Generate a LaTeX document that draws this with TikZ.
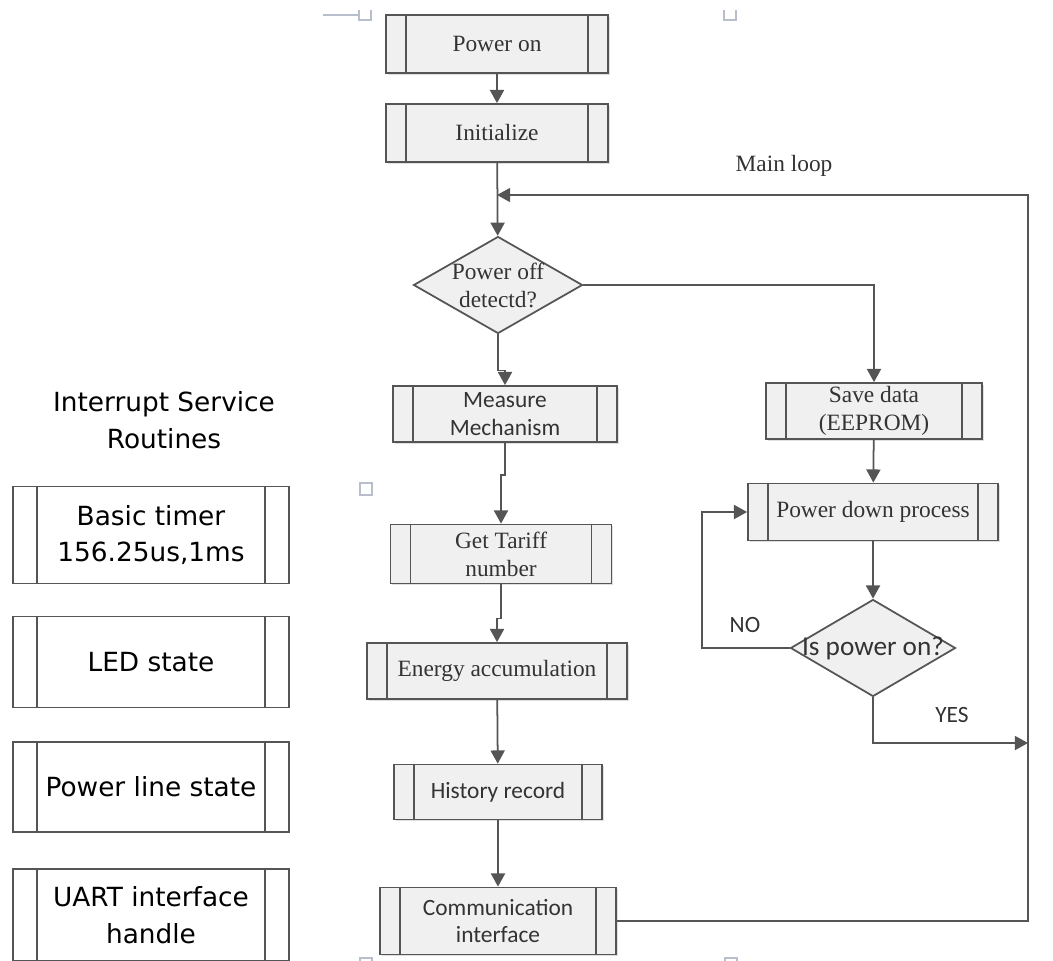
\documentclass[tikz,border=0pt]{standalone}
\usepackage{fontspec}
\setmainfont{Liberation Serif}
\newfontfamily\calibrifont{Carlito}
\newfontfamily\isrfont{DejaVu Sans}
\usetikzlibrary{arrows.meta,shapes.geometric,shadows}
\newdimen\px \px=0.02cm
\definecolor{linegray}{HTML}{555555}
\definecolor{boxgray}{HTML}{F0F0F0}
\definecolor{textgray}{HTML}{333333}
\definecolor{markgray}{HTML}{B8BECC}
\newcommand\flowserif{\fontsize{13.3}{16}\selectfont}
\newcommand\flowsans{\calibrifont\fontsize{13.3}{15.5}\selectfont}
\newcommand\isrsans{\isrfont\fontsize{15}{21}\selectfont}
\tikzset{
  flowline/.style={draw=linegray, line width=1pt},
  arr/.style={flowline, -{Triangle[length=7.5pt,width=8pt]}},
  subproc/.style={rectangle, draw=linegray, line width=1pt, fill=boxgray,
    inner sep=0pt, align=center, text=textgray,
    drop shadow={shadow xshift=1pt, shadow yshift=-1pt, opacity=0.25},
    path picture={
      \draw[linegray, line width=1pt]
        ([xshift=#1]path picture bounding box.north west) -- ([xshift=#1]path picture bounding box.south west)
        ([xshift=-#1]path picture bounding box.north east) -- ([xshift=-#1]path picture bounding box.south east);
    }},
  subproc/.default=20\px,
  isrbox/.style={rectangle, draw=linegray, line width=0.8pt, fill=white,
    inner sep=0pt, align=center, text=black, font=\isrsans, minimum width=276\px,
    path picture={
      \draw[linegray, line width=0.8pt]
        ([xshift=24\px]path picture bounding box.north west) -- ([xshift=24\px]path picture bounding box.south west)
        ([xshift=-24\px]path picture bounding box.north east) -- ([xshift=-24\px]path picture bounding box.south east);
    }},
  decision/.style={diamond, draw=linegray, line width=1pt, fill=boxgray, inner sep=0pt},
  marker/.style={draw=markgray, line width=0.6pt}
}

\begin{document}
\begin{tikzpicture}[x=0.02cm,y=-0.02cm]
  \useasboundingbox (0,0) rectangle (1053,960);

  %%%%% main flow %%%%%
  \node[subproc, minimum width=222\px, minimum height=58\px, font=\flowserif] (pwron) at (497,44) {Power on};
  \node[subproc, minimum width=222\px, minimum height=58\px, font=\flowserif] (init) at (497,133) {Initialize};
  \node[decision, minimum width=169\px, minimum height=97\px,
    label={[font=\flowserif, text=textgray, align=center]center:Power off\\detectd?}] (dec1) at (498,285) {};
  \node[subproc, minimum width=224\px, minimum height=56\px, font=\flowsans] (meas) at (505,414) {Measure\\Mechanism};
  \node[subproc, minimum width=221\px, minimum height=59\px, font=\flowserif] (tariff) at (501,554) {Get Tariff\\number};
  \node[subproc, minimum width=260\px, minimum height=56\px, font=\flowserif] (energy) at (497,671) {Energy accumulation};
  \node[subproc, minimum width=208\px, minimum height=55\px, font=\flowsans] (hist) at (498,792) {History record};
  \node[subproc, minimum width=236\px, minimum height=67\px, font=\flowsans] (comm) at (498,921) {Communication\\interface};

  %%%%% power down branch %%%%%
  \node[subproc, minimum width=216\px, minimum height=56\px, font=\flowserif] (save) at (874,411) {Save data\\(EEPROM)};
  \node[subproc, minimum width=250\px, minimum height=57\px, font=\flowserif] (pdown) at (873,512) {Power down process};
  \node[decision, minimum width=165\px, minimum height=97\px,
    label={[font=\flowsans\fontsize{15.5}{18}\selectfont, text=textgray]center:Is power on?}] (dec2) at (873,648) {};

  \coordinate (loopTop) at (1028,195);
  \coordinate (yesEnd) at (1028,743);

  \draw[arr] (pwron) -- (init);
  \draw[arr] (init) -- (dec1);
  \draw[arr] (dec1.south) -- ++(0,36) -| (meas.north);
  \draw[arr] (meas.south) -- ++(0,32) -| (tariff.north);
  \draw[arr] (tariff.south) -- ++(0,34) -| (energy.north);
  \draw[arr] (energy) -- (hist);
  \draw[arr] (hist) -- (comm);
  \draw[arr] (comm.east) -| (loopTop) -- (init.south |- loopTop);
  \node[font=\flowserif, text=textgray] (mainloop) at (784,166) {Main loop};

  \draw[arr] (dec1.east) -| (save.north);
  \draw[arr] (save) -- (pdown);
  \draw[arr] (pdown) -- (dec2);
  \draw[arr] (dec2.west) -- ++(-88,0) |- (pdown.west);
  \draw[arr] (dec2.south) |- (yesEnd);
  \node[font=\flowsans, text=textgray] (nolbl) at (745,625) {NO};
  \node[font=\flowsans, text=textgray] (yeslbl) at (952,715) {YES};

  %%%%% interrupt service routines %%%%%
  \node[font=\isrsans, align=center] (isrtitle) at (164,420) {Interrupt Service\\Routines};
  \node[isrbox, minimum height=97\px] (timer) at (151,535) {Basic timer\\156.25us,1ms};
  \node[isrbox, minimum height=91\px] (led) at (151,662) {LED state};
  \node[isrbox, minimum height=90\px] (pline) at (151,787) {Power line state};
  \node[isrbox, minimum height=92\px] (uart) at (151,915) {UART interface\\handle};

  %%%%% layout marks %%%%%
  \draw[marker] (323,15) -- (359,15);
  \draw[marker] (359,10) -- (359,20) -- (371,20) -- (371,10);
  \draw[marker] (724,10) -- (724,20) -- (736,20) -- (736,10);
  \draw[marker] (360,483) rectangle (372,495);
  \draw[marker] (360,961) -- (360,958) -- (372,958) -- (372,961);
  \draw[marker] (725,961) -- (725,958) -- (737,958) -- (737,961);
\end{tikzpicture}
\end{document}
